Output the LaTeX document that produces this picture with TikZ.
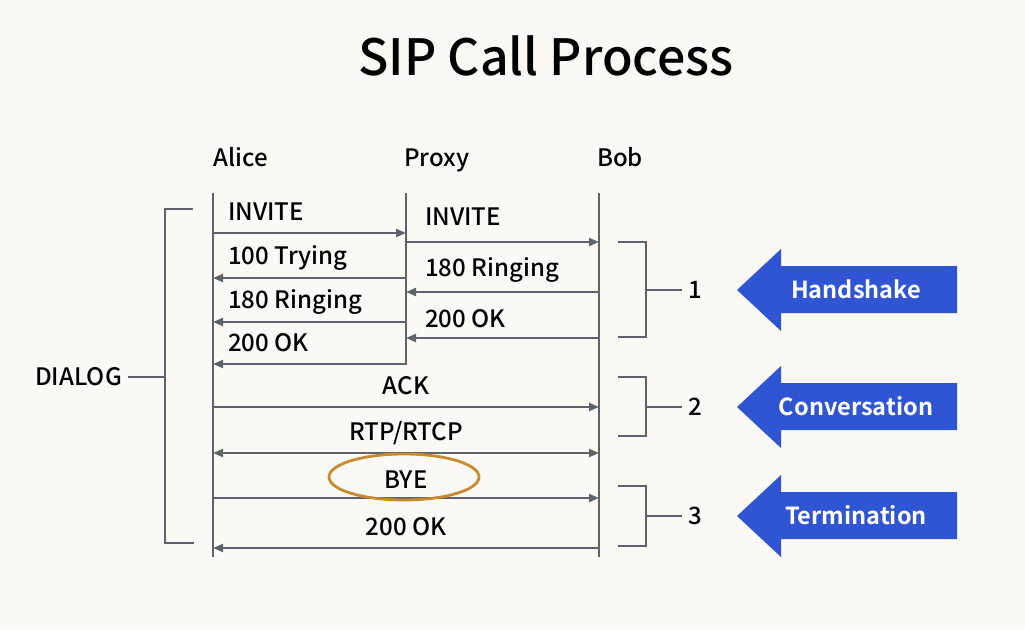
\documentclass[tikz,border=0pt]{standalone}
\usepackage{fontspec}
\setmainfont{Noto Sans CJK SC}[UprightFont={* Medium},BoldFont={* Bold}]
\usetikzlibrary{arrows.meta}
\definecolor{bg}{HTML}{FAF9F6}
\definecolor{ln}{HTML}{5F6266}
\definecolor{blu}{HTML}{2F55D2}
\definecolor{org}{HTML}{C88A2E}
\tikzset{
  msg/.style={draw=ln,line width=2.2pt,-{Triangle[length=10pt,width=8pt]}},
  bmsg/.style={draw=ln,line width=2.2pt,{Triangle[length=10pt,width=8pt]}-{Triangle[length=10pt,width=8pt]}},
  life/.style={draw=ln,line width=2.4pt},
  brk/.style={draw=ln,line width=2.6pt},
  lbl/.style={inner sep=0pt,anchor=base,font=\fontsize{24}{29}\selectfont},
  llbl/.style={lbl,anchor=base west},
  bigarrow/.style={fill=blu,draw=none},
  atext/.style={inner sep=0pt,anchor=base,text=white,font=\fontsize{23.5}{28}\selectfont\bfseries}
}
\begin{document}
\begin{tikzpicture}[x=1pt,y=-1pt]
\fill[bg] (0,0) rectangle (1025,629);
\useasboundingbox (0,0) rectangle (1025,629);
% title
\node[inner sep=0pt,anchor=base,font=\fontsize{50}{56}\selectfont] (title) at (546,75) {SIP Call Process};
% headers
\node[llbl] (alice) at (213,166) {Alice};
\node[llbl] (proxy) at (404,166) {Proxy};
\node[llbl] (bob) at (597,166) {Bob};
% lifelines
\coordinate (aT) at (213,193); \coordinate (aB) at (213,557);
\coordinate (pT) at (406,193); \coordinate (pB) at (406,365);
\coordinate (bT) at (599,193); \coordinate (bB) at (599,557);
\draw[life] (aT) -- (aB);
\draw[life] (pT) -- (pB);
\draw[life] (bT) -- (bB);
% message anchor points
\foreach \n/\y in {1/233,3/278,5/322,7/364,8/407,9/453,10/498,11/548}{
  \coordinate (a\n) at (213,\y);}
\foreach \n/\y in {1/233,3/278,5/322,7/364}{
  \coordinate (p\n) at (406,\y);}
\foreach \n/\y in {2/242,4/292,6/338}{
  \coordinate (q\n) at (406,\y);}
\foreach \n/\y in {2/242,4/292,6/338,8/407,9/453,10/498,11/548}{
  \coordinate (b\n) at (599,\y);}
% messages
\draw[msg] (a1) -- (p1);
\node[llbl] (m1) at (228,220) {INVITE};
\draw[msg] (q2) -- (b2);
\node[llbl] (m2) at (425,225) {INVITE};
\draw[msg] (p3) -- (a3);
\node[llbl] (m3) at (228,264) {100 Trying};
\draw[msg] (b4) -- (q4);
\node[llbl] (m4) at (425,276) {180 Ringing};
\draw[msg] (p5) -- (a5);
\node[llbl] (m5) at (228,308) {180 Ringing};
\draw[msg] (b6) -- (q6);
\node[llbl] (m6) at (425,327) {200 OK};
\draw[msg] (p7) -- (a7);
\node[llbl] (m7) at (228,351) {200 OK};
\draw[msg] (a8) -- (b8);
\node[lbl] (m8) at (406,394) {ACK};
\draw[bmsg] (a9) -- (b9);
\node[lbl] (m9) at (406,440) {RTP/RTCP};
\draw[msg] (a10) -- (b10);
\node[lbl] (m10) at (406,488) {BYE};
\draw[org,line width=2.8pt] (404,477) ellipse [x radius=75pt,y radius=23pt];
\draw[msg] (b11) -- (a11);
\node[lbl] (m11) at (406,535) {200 OK};
% dialog bracket
\draw[brk] (193,209) -- (165,209) -- (165,543) -- (194,543);
\node[lbl,anchor=base east] (dialog) at (122,385) {DIALOG};
\coordinate (dj) at (128,377);
\draw[brk] (dj) -- (165,377);
% phase brackets
\foreach \n/\t/\b/\m/\w in {1/242/337/290/Handshake,2/377/436/407/Conversation,3/486/546/516/Termination}{
  \draw[brk] (618,\t) -- (646,\t) -- (646,\b) -- (618,\b);
  \draw[brk] (646,\m) -- (682,\m);
  \node[lbl] (num\n) at (695,\m+8) {\n};
  \fill[bigarrow] (737,\m) -- (781,\m-41) -- (781,\m-24) -- (957,\m-24) -- (957,\m+23) -- (781,\m+23) -- (781,\m+41) -- cycle;
  \node[atext] (phase\n) at (856,\m+8) {\w};
}
\end{tikzpicture}
\end{document}
